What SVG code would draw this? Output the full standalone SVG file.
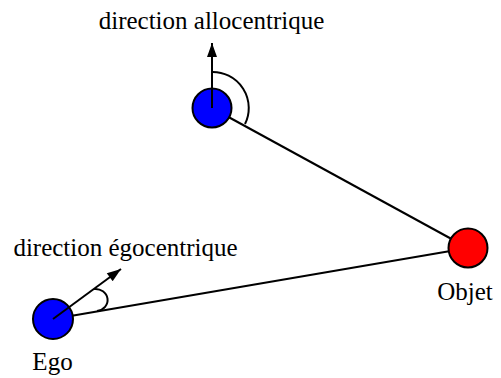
<svg xmlns="http://www.w3.org/2000/svg" width="501" height="378" viewBox="0 0 501 378">
<style>
text{font-family:"Liberation Serif","Times New Roman",serif;font-size:25px;fill:#000}
.ln{stroke:#000;stroke-width:2;fill:none}
.nd{stroke:#000;stroke-width:2}
</style>
<defs>
<marker id="ah2" viewBox="0 0 14 10" refX="14" refY="5" markerWidth="20" markerHeight="10" markerUnits="userSpaceOnUse" orient="auto">
<path d="M0,0 L14,5 L0,10 z" fill="#000"/>
</marker>
</defs>
<rect width="501" height="378" fill="#fff"/>
<g id="connectors">
<line class="ln" x1="212" y1="108" x2="468" y2="248"/>
<line class="ln" x1="53" y1="319" x2="468" y2="248"/>
</g>
<g id="allo">
<circle class="nd" cx="212" cy="108" r="19.5" fill="#0000ff"/>
<line class="ln" x1="212" y1="108" x2="212" y2="43" marker-end="url(#ah2)"/>
<path class="ln" d="M212,72 A36,36 0 0 1 245,124"/>
</g>
<g id="ego">
<circle class="nd" cx="53" cy="319" r="20" fill="#0000ff"/>
<line class="ln" x1="53" y1="319" x2="121" y2="269" marker-end="url(#ah2)"/>
<path class="ln" d="M94,289 A12,11 0 0 1 97,311"/>
</g>
<g id="objet">
<circle class="nd" cx="468" cy="248" r="19.5" fill="#ff0000"/>
</g>
<g id="labels">
<text x="211.5" y="29" text-anchor="middle">direction allocentrique</text>
<text x="125.5" y="256" text-anchor="middle">direction égocentrique</text>
<text x="52.5" y="370" text-anchor="middle">Ego</text>
<text x="465" y="300" text-anchor="middle">Objet</text>
</g>
</svg>
